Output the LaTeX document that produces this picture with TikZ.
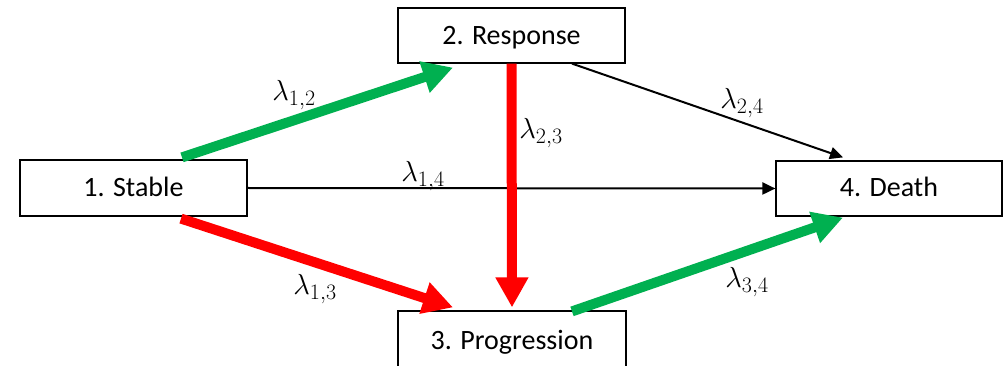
\RequirePackage{fix-cm}
\documentclass[tikz,border=0pt]{standalone}
\usepackage{fontspec}
\setmainfont{Carlito}
\usetikzlibrary{arrows.meta,calc}
\DeclareMathSizes{29}{29}{22}{16}
\definecolor{offgreen}{RGB}{0,176,80}
\definecolor{offred}{RGB}{255,0,0}
\newcommand{\boxtxt}[2]{\raisebox{#1}[0pt][0pt]{#2}}
\begin{document}
\begin{tikzpicture}[x=1pt,y=-1pt,
  box/.style={draw=black,line width=1.2pt,fill=white,inner sep=0pt,font=\fontsize{28}{32}\selectfont},
  thickgreen/.style={draw=offgreen,line width=10pt,-{Triangle[length=30pt,width=31pt]}},
  thickred/.style={draw=offred,line width=10pt,-{Triangle[length=30pt,width=31pt]}},
  thinarr/.style={draw=black,line width=2pt,-{Triangle[length=13pt,width=12pt]}},
  lab/.style={inner sep=0pt,font=\fontsize{29}{33}\selectfont}]
\useasboundingbox (0,0) rectangle (1005,366);
\clip (0,0) rectangle (1005,366);
\node[box,minimum width=227pt,minimum height=56pt] (s) at (133.5,188) {\boxtxt{-9pt}{1. Stable}};
\node[box,minimum width=227pt,minimum height=55pt] (r) at (511.5,35.5) {\boxtxt{-9.5pt}{2. Response}};
\node[box,minimum width=228pt,minimum height=62pt] (p) at (512,342) {\boxtxt{-7pt}{3. Progression}};
\node[box,minimum width=226pt,minimum height=55pt] (d) at (889,188.5) {\boxtxt{-8.5pt}{4. Death}};
\draw[thinarr] (s.east) -- (d.west);
\draw[thinarr] ([xshift=60.5pt]r.south) -- ([xshift=-46pt,yshift=3pt]d.north);
\draw[thickred] ([xshift=47.5pt,yshift=-2pt]s.south) -- ([xshift=-59pt,yshift=3pt]p.north);
\draw[thickred] (r.south) -- ([yshift=3pt]p.north);
\draw[thickgreen] ([xshift=48.5pt,yshift=2pt]s.north) -- ([xshift=-58.5pt,yshift=-4pt]r.south);
\draw[thickgreen] ([xshift=60pt,yshift=-1pt]p.north) -- ([xshift=-46pt,yshift=-1pt]d.south);
\node[lab] (l12) at (294,95) {$\lambda_{1,2}$};
\node[lab] (l23) at (541,133) {$\lambda_{2,3}$};
\node[lab] (l14) at (423,176) {$\lambda_{1,4}$};
\node[lab] (l24) at (742,103) {$\lambda_{2,4}$};
\node[lab] (l13) at (315,289) {$\lambda_{1,3}$};
\node[lab] (l34) at (747,282) {$\lambda_{3,4}$};
\end{tikzpicture}
\end{document}
